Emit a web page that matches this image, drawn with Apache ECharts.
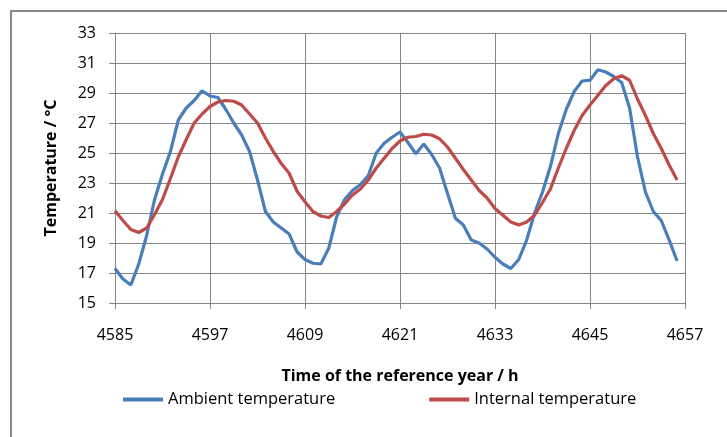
<!DOCTYPE html>
<html>
<head>
<meta charset="utf-8">
<script src="https://cdn.jsdelivr.net/npm/echarts@6/dist/echarts.min.js"></script>
<style>
    html, body { margin: 0; padding: 0; background: #fff; }
    #chart { width: 727px; height: 437px; }
</style>
</head>
<body>
<div id="chart"></div>
<script>
// hour of the reference year
var hours = [4585, 4586, 4587, 4588, 4589, 4590, 4591, 4592, 4593, 4594, 4595, 4596,
    4597, 4598, 4599, 4600, 4601, 4602, 4603, 4604, 4605, 4606, 4607, 4608,
    4609, 4610, 4611, 4612, 4613, 4614, 4615, 4616, 4617, 4618, 4619, 4620,
    4621, 4622, 4623, 4624, 4625, 4626, 4627, 4628, 4629, 4630, 4631, 4632,
    4633, 4634, 4635, 4636, 4637, 4638, 4639, 4640, 4641, 4642, 4643, 4644,
    4645, 4646, 4647, 4648, 4649, 4650, 4651, 4652, 4653, 4654, 4655, 4656];

var ambient = [17.3, 16.6, 16.2, 17.6, 19.5, 21.9, 23.6, 25.1, 27.2, 28.0, 28.5, 29.15,
    28.8, 28.7, 27.9, 27.0, 26.2, 25.1, 23.2, 21.1, 20.4, 20.0, 19.6, 18.4,
    17.9, 17.65, 17.6, 18.65, 20.75, 21.9, 22.5, 22.9, 23.5, 25.0, 25.65, 26.05,
    26.4, 25.7, 24.95, 25.6, 24.9, 24.0, 22.3, 20.65, 20.2, 19.2, 19.0, 18.6,
    18.05, 17.6, 17.3, 17.9, 19.2, 21.0, 22.4, 24.1, 26.3, 27.9, 29.1, 29.8,
    29.85, 30.55, 30.4, 30.1, 29.7, 28.0, 24.75, 22.4, 21.1, 20.5, 19.2, 17.8];

var internal = [21.15, 20.5, 19.9, 19.7, 20.0, 20.9, 21.9, 23.3, 24.75, 25.9, 27.0, 27.6,
    28.1, 28.4, 28.5, 28.45, 28.2, 27.6, 27.0, 26.0, 25.1, 24.3, 23.65, 22.45,
    21.75, 21.1, 20.8, 20.7, 21.1, 21.6, 22.2, 22.6, 23.2, 24.0, 24.65, 25.3,
    25.8, 26.05, 26.1, 26.25, 26.2, 25.95, 25.4, 24.65, 23.9, 23.2, 22.5, 22.0,
    21.3, 20.85, 20.4, 20.2, 20.4, 20.85, 21.7, 22.6, 24.0, 25.3, 26.5, 27.5,
    28.2, 28.85, 29.5, 29.95, 30.15, 29.85, 28.6, 27.5, 26.3, 25.3, 24.2, 23.2];

var seriesNames = ["Ambient temperature", "Internal temperature"];

function pairs(ys) {
    var out = [];
    for (var i = 0; i < ys.length; i++) {
        out.push([hours[i], ys[i]]);
    }
    return out;
}

var font = "'Open Sans', sans-serif";
var gridColor = "#868686";

var chart = echarts.init(document.getElementById("chart"));

var option = {
    animation: false,
    backgroundColor: "#fff",
    textStyle: { fontFamily: font },
    graphic: [{
        type: "rect",
        shape: { x: 11, y: 11, width: 730, height: 440 },
        style: { fill: null, stroke: "#888", lineWidth: 2 },
        silent: true
    }],
    grid: { left: 115, right: 42, top: 33, bottom: 134 },
    legend: {
        left: 123,
        top: 391,
        padding: 0,
        itemWidth: 40,
        itemHeight: 4,
        itemGap: 94,
        icon: "rect",
        textStyle: { fontFamily: font, fontSize: 16.5, color: "#000" },
        data: seriesNames
    },
    xAxis: {
        type: "value",
        min: 4585,
        max: 4657,
        interval: 12,
        name: "Time of the reference year / h",
        nameLocation: "middle",
        nameGap: 65,
        nameTextStyle: { fontFamily: font, fontSize: 16, fontWeight: "bold", color: "#000" },
        axisLine: { show: true, lineStyle: { color: gridColor, width: 1 } },
        axisTick: { show: true, length: 6, lineStyle: { color: gridColor } },
        axisLabel: {
            margin: 24,
            fontFamily: font,
            fontSize: 16,
            color: "#000",
            formatter: function (v) { return String(v); }
        },
        splitLine: { show: true, lineStyle: { color: gridColor, width: 1 } }
    },
    yAxis: {
        type: "value",
        min: 15,
        max: 33,
        interval: 2,
        name: "Temperature / °C",
        nameLocation: "middle",
        nameGap: 56,
        nameTextStyle: { fontFamily: font, fontSize: 16, fontWeight: "bold", color: "#000" },
        axisLine: { show: true, lineStyle: { color: gridColor, width: 1 } },
        axisTick: { show: true, length: 6, lineStyle: { color: gridColor } },
        axisLabel: { margin: 19, fontFamily: font, fontSize: 16, color: "#000" },
        splitLine: { show: true, lineStyle: { color: gridColor, width: 1 } }
    },
    series: [{
        name: seriesNames[0],
        type: "line",
        showSymbol: false,
        color: "#4A7EBB",
        lineStyle: { width: 3.2 },
        data: pairs(ambient)
    }, {
        name: seriesNames[1],
        type: "line",
        showSymbol: false,
        color: "#BE4B48",
        lineStyle: { width: 3.2 },
        data: pairs(internal)
    }]
};

chart.setOption(option);
</script>
</body>
</html>
